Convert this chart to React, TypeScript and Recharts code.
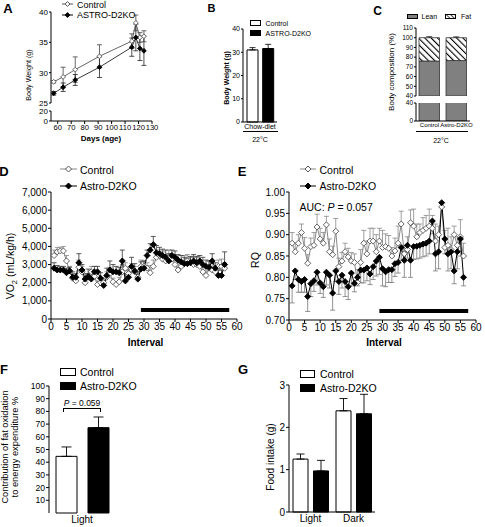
import React from 'react';
import { LineChart, Line, BarChart, Bar, XAxis, YAxis, ErrorBar, ReferenceLine } from 'recharts';

// A: body weight by age
const ageDays = [57, 64, 73, 91, 115, 118, 121, 124];
const bwControl = [28.5, 29.3, 30.5, 32.7, 35.2, 38.2, 35.8, 36.0];
const bwControlSem = [0.2, 1.6, 2.1, 1.9, 1.2, 1.3, 0.8, 0.9];
const bwKo = [26.6, 27.6, 28.8, 30.9, 34.2, 35.8, 34.0, 33.6];
const bwKoSem = [0.3, 0.7, 0.9, 1.7, 1.5, 2.2, 2.0, 2.4];
const dayTicks = [60, 70, 80, 90, 100, 110, 120, 130];
const bwTicksUpper = [25, 30, 35, 40];
const bwTicksLower = [0, 20];

// B: body weight, chow diet
const dietGroups = ['Chow-diet'];
const bwMeanControl = [31.0];
const bwSemControl = [1.0];
const bwMeanKo = [31.6];
const bwSemKo = [1.8];
const bTicks = [0, 10, 20, 30, 40];

// C: body composition
const compGroups = ['Control', 'Astro-D2KO'];
const leanPct = [76, 76.5];
const fatPct = [24, 23.5];
const fatSem = [1, 0.8];
const compTicksUpper = [40, 50, 60, 70, 80, 90, 100, 110];
const compTicksLower = [0, 40];

// D / E: indirect calorimetry
const intervals = Array.from({ length: 56 }, (_, i) => i + 1);
const intervalTicks = [0, 5, 10, 15, 20, 25, 30, 35, 40, 45, 50, 55, 60];
const darkPhase = [29, 57.5];
const vo2Control = [
  3500, 3700, 3750, 3750, 3200, 2650, 2250, 2100, 2850, 2600,
  2000, 2300, 2600, 2350, 1900, 2000, 2000, 2300, 2500, 2050,
  1900, 2050, 2600, 2800, 2500, 2700, 2600, 2300, 2900, 2900,
  2800, 2550, 2900, 3400, 3500, 3300, 3200, 3400, 3300, 3000,
  2700, 2900, 3100, 3200, 3100, 3000, 3000, 2900, 2600, 2400,
  2800, 2700, 2600, 2900, 2900, 2800,
];
const vo2ControlSem = [
  300, 250, 200, 250, 300, 250, 200, 150, 400, 300,
  250, 200, 300, 250, 200, 250, 200, 300, 350, 200,
  150, 250, 400, 300, 350, 350, 300, 300, 350, 300,
  300, 400, 350, 300, 300, 400, 350, 400, 300, 300,
  350, 300, 400, 350, 300, 400, 400, 300, 350, 250,
  400, 350, 300, 350, 400, 300,
];
const vo2Ko = [
  2800, 2700, 2700, 2700, 2550, 2650, 2300, 2300, 3100, 2700,
  2200, 2350, 2200, 2600, 2600, 2250, 1850, 2400, 2700, 2600,
  2600, 2550, 3200, 2100, 2300, 2900, 2650, 2200, 2750, 2800,
  3500, 3800, 4100, 3650, 3600, 3500, 3400, 3200, 3500, 3400,
  3250, 3150, 3050, 3050, 3100, 3200, 3100, 3200, 3000, 2900,
  2850, 3200, 2800, 2400, 2400, 3000,
];
const vo2KoSem = [
  300, 250, 200, 200, 250, 200, 300, 200, 500, 300,
  300, 400, 300, 300, 300, 300, 250, 400, 500, 400,
  300, 300, 600, 400, 400, 500, 400, 400, 400, 400,
  300, 350, 450, 400, 350, 350, 400, 400, 300, 350,
  300, 350, 350, 300, 350, 350, 350, 300, 400, 350,
  350, 400, 300, 300, 300, 700,
];
const vo2Ticks = [0, 1000, 2000, 3000, 4000, 5000, 6000, 7000];
const vo2BarLevel = 500;

const rqControl = [
  0.88, 0.86, 0.88, 0.905, 0.868, 0.833, 0.872, 0.875, 0.918, 0.89,
  0.88, 0.923, 0.86, 0.853, 0.908, 0.825, 0.838, 0.86, 0.848, 0.838,
  0.835, 0.788, 0.835, 0.88, 0.855, 0.885, 0.885, 0.86, 0.885, 0.87,
  0.872, 0.868, 0.85, 0.862, 0.88, 0.925, 0.855, 0.865, 0.928, 0.92,
  0.895, 0.905, 0.91, 0.915, 0.92, 0.915, 0.885, 0.9, 0.965, 0.87,
  0.875, 0.865, 0.9, 0.875, 0.895, 0.85,
];
const rqControlSem = [
  0.025, 0.02, 0.02, 0.02, 0.025, 0.02, 0.02, 0.03, 0.03, 0.025,
  0.025, 0.02, 0.03, 0.02, 0.03, 0.02, 0.02, 0.02, 0.02, 0.02,
  0.02, 0.03, 0.03, 0.03, 0.03, 0.03, 0.03, 0.04, 0.03, 0.04,
  0.03, 0.03, 0.02, 0.03, 0.04, 0.03, 0.02, 0.03, 0.03, 0.04,
  0.03, 0.02, 0.03, 0.03, 0.04, 0.03, 0.04, 0.02, 0.01, 0.04,
  0.04, 0.03, 0.02, 0.02, 0.04, 0.03,
];
const rqKo = [
  0.78, 0.815, 0.795, 0.79, 0.795, 0.755, 0.785, 0.792, 0.812, 0.787,
  0.778, 0.812, 0.805, 0.763, 0.815, 0.79, 0.805, 0.79, 0.778, 0.81,
  0.786, 0.8, 0.817, 0.817, 0.822, 0.808, 0.825, 0.838, 0.847, 0.82,
  0.813, 0.818, 0.818, 0.832, 0.835, 0.87, 0.84, 0.875, 0.84, 0.872,
  0.873, 0.875, 0.878, 0.88, 0.885, 0.932, 0.855, 0.86, 0.975, 0.89,
  0.855, 0.86, 0.815, 0.86, 0.89, 0.8,
];
const rqKoSem = [
  0.04, 0.02, 0.03, 0.025, 0.03, 0.035, 0.03, 0.025, 0.03, 0.025,
  0.025, 0.03, 0.03, 0.04, 0.025, 0.03, 0.03, 0.035, 0.03, 0.03,
  0.02, 0.02, 0.03, 0.03, 0.03, 0.025, 0.03, 0.035, 0.04, 0.04,
  0.035, 0.03, 0.03, 0.03, 0.025, 0.03, 0.04, 0.03, 0.04, 0.03,
  0.03, 0.03, 0.03, 0.03, 0.03, 0.03, 0.04, 0.04, 0.01, 0.035,
  0.04, 0.04, 0.03, 0.04, 0.04, 0.02,
];
const rqTicks = [0.7, 0.75, 0.8, 0.85, 0.9, 0.95, 1.0];
const rqBarLevel = 0.721;

// F: fat oxidation share
const fatOxGroups = ['Light'];
const fatOxControl = [44.6];
const fatOxControlSem = [7.4];
const fatOxKo = [67.2];
const fatOxKoSem = [8.4];
const fatOxTicks = [10, 20, 30, 40, 50, 60, 70, 80, 90, 100];

// G: food intake
const intakeGroups = ['Light', 'Dark'];
const intakeControl = [1.25, 2.39];
const intakeControlSem = [0.12, 0.29];
const intakeKo = [0.97, 2.32];
const intakeKoSem = [0.25, 0.46];
const intakeTicks = [0, 1, 2, 3];

const bwRows = ageDays.map((day, i) => ({
  day, ctrl: bwControl[i], ko: bwKo[i], ctrlErr: bwControlSem[i], koErr: bwKoSem[i],
}));
const bRows = dietGroups.map((g, i) => ({
  g, ctrl: bwMeanControl[i], ko: bwMeanKo[i], ctrlErr: [0, bwSemControl[i]], koErr: [0, bwSemKo[i]],
}));
const cRows = compGroups.map((g, i) => ({ g, lean: leanPct[i], fat: fatPct[i], cap: fatSem[i] }));
const vo2Rows = intervals.map((t, i) => ({
  t, ctrl: vo2Control[i], ko: vo2Ko[i],
  ctrlErr: [0, vo2ControlSem[i] ?? 0], koErr: [0, vo2KoSem[i] ?? 0],
}));
const rqRows = intervals.map((t, i) => ({
  t, ctrl: rqControl[i], ko: rqKo[i],
  ctrlErr: [0, rqControlSem[i] ?? 0], koErr: [rqKoSem[i] ?? 0, 0],
}));
const fRows = fatOxGroups.map((g, i) => ({
  g, ctrl: fatOxControl[i], ko: fatOxKo[i], ctrlErr: [0, fatOxControlSem[i]], koErr: [0, fatOxKoSem[i]],
}));
const gRows = intakeGroups.map((g, i) => ({
  g, ctrl: intakeControl[i], ko: intakeKo[i], ctrlErr: [0, intakeControlSem[i]], koErr: [0, intakeKoSem[i]],
}));

const FONT = '"Liberation Sans", Arial, Helvetica, sans-serif';
const axisLine = { stroke: '#000', strokeWidth: 1 };
const tk = (fontSize: number) => ({ fontSize, fill: '#000' });

const diamondDot = (fill: string, stroke: string, r: number) => (p: any) => {
  const { cx, cy, index } = p;
  if (cx == null || cy == null) return <g key={`d${index}`} />;
  return (
    <path
      key={`d${index}`}
      d={`M${cx},${cy - r}L${cx + r},${cy}L${cx},${cy + r}L${cx - r},${cy}Z`}
      fill={fill}
      stroke={stroke}
      strokeWidth={0.9}
    />
  );
};

const ErrCap = (p: any) => {
  const { x, y, width, height } = p;
  if (x == null || y == null) return <g />;
  const cx = x + width / 2;
  return (
    <g>
      <line x1={cx} x2={cx} y1={y} y2={y + height} stroke="#000" strokeWidth={0.8} />
      <line x1={cx - 3} x2={cx + 3} y1={y} y2={y} stroke="#000" strokeWidth={0.8} />
    </g>
  );
};

const Txt = ({ x, y, size, bold, rotate, left, children }: any) => (
  <div
    style={{
      position: 'absolute', left: x, top: y, fontSize: size, fontWeight: bold ? 700 : 400,
      lineHeight: 1, whiteSpace: 'nowrap',
      transform: `translate(${left ? '0' : '-50%'}, -50%)${rotate ? ' rotate(-90deg)' : ''}`,
    }}
  >
    {children}
  </div>
);

const BoxKey = ({ x, y, w, h, fill }: any) => (
  <div
    style={{
      position: 'absolute', left: x, top: y - h / 2, width: w, height: h, background: fill,
      border: '1px solid #000', boxSizing: 'border-box',
    }}
  />
);

const LineKey = ({ x, y, w, fill, stroke, line, r }: any) => (
  <svg style={{ position: 'absolute', left: x, top: y - 5 }} width={w} height={10}>
    <line x1={0} x2={w} y1={5} y2={5} stroke={line} strokeWidth={1} />
    <path d={`M${w / 2},${5 - r}L${w / 2 + r},5L${w / 2},${5 + r}L${w / 2 - r},5Z`} fill={fill} stroke={stroke} />
  </svg>
);

const Pos = ({ x, y, children }: any) => (
  <div style={{ position: 'absolute', left: x, top: y }}>{children}</div>
);

export default function App() {
  return (
    <div
      style={{
        position: 'absolute', left: 0, top: 0, width: 485, height: 527, background: '#fff',
        fontFamily: FONT, color: '#000', overflow: 'hidden',
      }}
    >
      <style>{'.recharts-surface{overflow:visible}'}</style>

      {/* A */}
      <Pos x={0} y={0}>
        <LineChart width={157} height={103} data={bwRows} margin={{ top: 12, right: 5, bottom: 0, left: 0 }}>
          <XAxis type="number" dataKey="day" domain={[55, 130]} hide />
          <YAxis domain={[25, 40]} ticks={bwTicksUpper} interval={0} width={51} tickSize={2} tickMargin={1}
            tick={tk(8)} axisLine={axisLine} tickLine={axisLine} allowDataOverflow />
          <Line dataKey="ctrl" stroke="#555" strokeWidth={0.9} dot={diamondDot('#fff', '#555', 2.4)}
            activeDot={false} isAnimationActive={false}>
            <ErrorBar dataKey="ctrlErr" direction="y" width={2.5} stroke="#444" strokeWidth={0.8} />
          </Line>
          <Line dataKey="ko" stroke="#222" strokeWidth={0.9} dot={diamondDot('#000', '#000', 2.4)}
            activeDot={false} isAnimationActive={false}>
            <ErrorBar dataKey="koErr" direction="y" width={2.5} stroke="#222" strokeWidth={0.8} />
          </Line>
        </LineChart>
      </Pos>
      <Pos x={0} y={105}>
        <LineChart width={157} height={32} data={bwRows} margin={{ top: 6, right: 5, bottom: 0, left: 0 }}>
          <XAxis type="number" dataKey="day" domain={[55, 130]} ticks={dayTicks} interval={0} height={16}
            tickSize={3} tickMargin={1} tick={tk(7.6)} axisLine={axisLine} tickLine={axisLine} />
          <YAxis domain={[0, 20]} ticks={bwTicksLower} interval={0} width={51} tickSize={2} tickMargin={1}
            tick={tk(8)} axisLine={axisLine} tickLine={axisLine} allowDataOverflow />
        </LineChart>
      </Pos>
      <Txt x={8} y={8} size={13} bold>A</Txt>
      <LineKey x={62} y={4} w={11} fill="#fff" stroke="#555" line="#555" r={2.4} />
      <Txt x={77} y={4.5} size={9} left>Control</Txt>
      <LineKey x={62} y={15} w={11} fill="#000" stroke="#000" line="#000" r={2.4} />
      <Txt x={77} y={15} size={9} left>ASTRO-D2KO</Txt>
      <Txt x={28.5} y={75} size={7.2} rotate>Body Weight (g)</Txt>
      <Txt x={101} y={139} size={8} bold>Days (age)</Txt>

      {/* B */}
      <Pos x={223} y={24}>
        <BarChart width={54} height={108} data={bRows} margin={{ top: 5, right: 0, bottom: 0, left: 0 }}
          barSize={11} barGap={4.7}>
          <XAxis dataKey="g" height={10} tickLine={false} tickSize={0} tickMargin={2} tick={tk(7)}
            axisLine={axisLine} interval={0} />
          <YAxis domain={[0, 40]} ticks={bTicks} interval={0} width={20} tickSize={2} tickMargin={1}
            tick={tk(7)} axisLine={axisLine} tickLine={axisLine} />
          <Bar dataKey="ctrl" fill="#fff" stroke="#000" strokeWidth={1} isAnimationActive={false}>
            <ErrorBar dataKey="ctrlErr" direction="y" width={3} stroke="#000" strokeWidth={0.8} />
          </Bar>
          <Bar dataKey="ko" fill="#000" stroke="#000" strokeWidth={1} isAnimationActive={false}>
            <ErrorBar dataKey="koErr" direction="y" width={3} stroke="#000" strokeWidth={0.8} />
          </Bar>
        </BarChart>
      </Pos>
      <Txt x={211.5} y={8} size={11} bold>B</Txt>
      <BoxKey x={250} y={23} w={11} h={5.5} fill="#fff" />
      <Txt x={265.5} y={23} size={7} left>Control</Txt>
      <BoxKey x={250} y={33} w={11} h={5.5} fill="#000" />
      <Txt x={265.5} y={33} size={7} left>ASTRO-D2KO</Txt>
      <Txt x={226} y={78} size={7} bold rotate>Body Weight (g)</Txt>
      <div style={{ position: 'absolute', left: 243, top: 131, width: 35, borderTop: '1px solid #000' }} />
      <Txt x={260} y={139} size={7}>22°C</Txt>

      {/* C */}
      <Pos x={386} y={0}>
        <BarChart width={84} height={96} data={cRows} margin={{ top: 28, right: 0, bottom: 0, left: 0 }}
          barSize={20.5}>
          <defs>
            <pattern id="fatHatch" width="4.5" height="4.5" patternUnits="userSpaceOnUse" patternTransform="rotate(-45)">
              <rect width="4.5" height="4.5" fill="#fff" />
              <line x1="0" y1="0" x2="0" y2="4.5" stroke="#000" strokeWidth="2.2" />
            </pattern>
          </defs>
          <XAxis dataKey="g" hide />
          <YAxis domain={[40, 110]} ticks={compTicksUpper} interval={0} width={30} tickSize={2} tickMargin={1}
            tick={tk(6.5)} axisLine={axisLine} tickLine={axisLine} allowDataOverflow />
          <Bar dataKey="lean" stackId="s" fill="#808080" stroke="#333" strokeWidth={0.8} isAnimationActive={false} />
          <Bar dataKey="fat" stackId="s" fill="url(#fatHatch)" stroke="#333" strokeWidth={0.8} isAnimationActive={false} />
          <Bar dataKey="cap" stackId="s" shape={ErrCap} isAnimationActive={false} />
        </BarChart>
      </Pos>
      <Pos x={386} y={97}>
        <BarChart width={84} height={36} data={cRows} margin={{ top: 6, right: 0, bottom: 0, left: 0 }}
          barSize={20.5}>
          <XAxis dataKey="g" height={12} tickLine={false} tickSize={0} tickMargin={2} tick={tk(6)}
            axisLine={axisLine} interval={0} />
          <YAxis domain={[0, 40]} ticks={compTicksLower} interval={0} width={30} tickSize={2} tickMargin={1}
            tick={tk(6.5)} axisLine={axisLine} tickLine={axisLine} allowDataOverflow />
          <Bar dataKey="lean" fill="#808080" stroke="#333" strokeWidth={0.8} isAnimationActive={false} />
        </BarChart>
      </Pos>
      <Txt x={377.5} y={11} size={12} bold>C</Txt>
      <BoxKey x={407} y={16} w={11} h={5} fill="#808080" />
      <Txt x={421.5} y={16} size={7} left>Lean</Txt>
      <svg style={{ position: 'absolute', left: 445, top: 13.5 }} width={11} height={5}>
        <defs>
          <pattern id="fatHatchKey" width="3" height="3" patternUnits="userSpaceOnUse" patternTransform="rotate(-45)">
            <rect width="3" height="3" fill="#fff" />
            <line x1="0" y1="0" x2="0" y2="3" stroke="#000" strokeWidth="1.4" />
          </pattern>
        </defs>
        <rect x={0.5} y={0.5} width={10} height={4} fill="url(#fatHatchKey)" stroke="#000" strokeWidth={1} />
      </svg>
      <Txt x={461} y={16} size={7} left>Fat</Txt>
      <Txt x={391.5} y={72} size={8} rotate>Body composition (%)</Txt>
      <div style={{ position: 'absolute', left: 416, top: 131, width: 52, borderTop: '1px solid #000' }} />
      <Txt x={441} y={140} size={7}>22°C</Txt>

      {/* D */}
      <Pos x={0} y={187}>
        <LineChart width={240} height={146} data={vo2Rows} margin={{ top: 5, right: 3, bottom: 0, left: 0 }}>
          <XAxis type="number" dataKey="t" domain={[0, 60]} ticks={intervalTicks} interval={0} height={14}
            tickSize={3} tickMargin={1} tick={tk(10)} axisLine={axisLine} tickLine={axisLine} />
          <YAxis domain={[0, 7000]} ticks={vo2Ticks} interval={0} width={51} tickSize={3} tickMargin={1}
            tick={tk(10)} axisLine={axisLine} tickLine={axisLine}
            tickFormatter={(v: number) => v.toLocaleString('en-US')} />
          <ReferenceLine segment={[{ x: darkPhase[0], y: vo2BarLevel }, { x: darkPhase[1], y: vo2BarLevel }]}
            stroke="#000" strokeWidth={4} />
          <Line dataKey="ctrl" stroke="#888" strokeWidth={1} dot={diamondDot('#fff', '#555', 3)}
            activeDot={false} isAnimationActive={false}>
            <ErrorBar dataKey="ctrlErr" direction="y" width={2.5} stroke="#888" strokeWidth={0.8} />
          </Line>
          <Line dataKey="ko" stroke="#000" strokeWidth={1} dot={diamondDot('#000', '#000', 3)}
            activeDot={false} isAnimationActive={false}>
            <ErrorBar dataKey="koErr" direction="y" width={2.5} stroke="#333" strokeWidth={0.8} />
          </Line>
        </LineChart>
      </Pos>
      <Txt x={4} y={171} size={13} bold>D</Txt>
      <LineKey x={60} y={169} w={17} fill="#fff" stroke="#555" line="#888" r={3} />
      <Txt x={80} y={169.5} size={10.5} left>Control</Txt>
      <LineKey x={60} y={185.5} w={17} fill="#000" stroke="#000" line="#000" r={3} />
      <Txt x={80} y={185.5} size={10.5} left>Astro-D2KO</Txt>
      <Txt x={12} y={266} size={10.5} rotate>VO<sub style={{ fontSize: 7.5 }}>2</sub> (mL/kg/h)</Txt>
      <Txt x={145.5} y={342.5} size={10} bold>Interval</Txt>

      {/* E */}
      <Pos x={259} y={187}>
        <LineChart width={220} height={147} data={rqRows} margin={{ top: 5, right: 3, bottom: 0, left: 0 }}>
          <XAxis type="number" dataKey="t" domain={[0, 60]} ticks={intervalTicks} interval={0} height={14}
            tickSize={3} tickMargin={1} tick={tk(10)} axisLine={axisLine} tickLine={axisLine} />
          <YAxis domain={[0.7, 1.0]} ticks={rqTicks} interval={0} width={30} tickSize={3} tickMargin={1}
            tick={tk(10)} axisLine={axisLine} tickLine={axisLine} allowDataOverflow
            tickFormatter={(v: number) => v.toFixed(2)} />
          <ReferenceLine segment={[{ x: darkPhase[0], y: rqBarLevel }, { x: darkPhase[1], y: rqBarLevel }]}
            stroke="#000" strokeWidth={4} />
          <Line dataKey="ctrl" stroke="#888" strokeWidth={1} dot={diamondDot('#fff', '#555', 3)}
            activeDot={false} isAnimationActive={false}>
            <ErrorBar dataKey="ctrlErr" direction="y" width={2.5} stroke="#888" strokeWidth={0.8} />
          </Line>
          <Line dataKey="ko" stroke="#000" strokeWidth={1} dot={diamondDot('#000', '#000', 3)}
            activeDot={false} isAnimationActive={false}>
            <ErrorBar dataKey="koErr" direction="y" width={2.5} stroke="#777" strokeWidth={0.8} />
          </Line>
        </LineChart>
      </Pos>
      <Txt x={242} y={171} size={13} bold>E</Txt>
      <LineKey x={300} y={169} w={16} fill="#fff" stroke="#555" line="#888" r={3} />
      <Txt x={319.5} y={169.5} size={10.5} left>Control</Txt>
      <LineKey x={300} y={185.5} w={16} fill="#000" stroke="#000" line="#000" r={3} />
      <Txt x={319.5} y={185.5} size={10.5} left>Astro-D2KO</Txt>
      <Txt x={254.5} y={260} size={10.5} rotate>RQ</Txt>
      <Txt x={299.5} y={206.7} size={10.5} left>AUC: <i>P</i> = 0.057</Txt>
      <Txt x={384} y={343} size={10} bold>Interval</Txt>

      {/* F */}
      <Pos x={21} y={380}>
        <BarChart width={94} height={147} data={fRows} margin={{ top: 6, right: 0, bottom: 0, left: 0 }}
          barSize={21} barGap={11}>
          <XAxis dataKey="g" height={14} axisLine={false} tickLine={false} tickSize={0} tickMargin={3}
            tick={tk(10)} interval={0} />
          <YAxis domain={[0, 100]} ticks={fatOxTicks} interval={0} width={28} tickSize={3} tickMargin={1}
            tick={tk(8.6)} axisLine={axisLine} tickLine={axisLine} />
          <Bar dataKey="ctrl" fill="#fff" stroke="#000" strokeWidth={1} isAnimationActive={false}>
            <ErrorBar dataKey="ctrlErr" direction="y" width={5} stroke="#000" strokeWidth={0.9} />
          </Bar>
          <Bar dataKey="ko" fill="#000" stroke="#000" strokeWidth={1} isAnimationActive={false}>
            <ErrorBar dataKey="koErr" direction="y" width={5} stroke="#000" strokeWidth={0.9} />
          </Bar>
        </BarChart>
      </Pos>
      <Txt x={4} y={369} size={13} bold>F</Txt>
      <BoxKey x={60} y={371.5} w={16} h={8} fill="#fff" />
      <Txt x={80} y={371.5} size={10.5} left>Control</Txt>
      <BoxKey x={60} y={385.5} w={16} h={8} fill="#000" />
      <Txt x={80} y={385.5} size={10.5} left>Astro-D2KO</Txt>
      <Txt x={82} y={403} size={8.5}><i>P</i> = 0.059</Txt>
      <div style={{ position: 'absolute', left: 63, top: 408, width: 38, height: 4, borderTop: '1px solid #000',
        borderLeft: '1px solid #000', borderRight: '1px solid #000', boxSizing: 'border-box' }} />
      <Txt x={5.5} y={447} size={9.3} rotate>Contribution of fat oxidation</Txt>
      <Txt x={15.5} y={447} size={9.3} rotate>to energy expenditure %</Txt>

      {/* G */}
      <Pos x={269} y={379}>
        <BarChart width={106} height={147} data={gRows} margin={{ top: 6, right: 0, bottom: 0, left: 0 }}
          barSize={15} barGap={5.5}>
          <XAxis dataKey="g" height={14} axisLine={axisLine} tickLine={false} tickSize={0} tickMargin={3}
            tick={tk(10)} interval={0} />
          <YAxis domain={[0, 3]} ticks={intakeTicks} interval={0} width={20} tickSize={3} tickMargin={1}
            tick={tk(10)} axisLine={axisLine} tickLine={axisLine} />
          <Bar dataKey="ctrl" fill="#fff" stroke="#000" strokeWidth={1} isAnimationActive={false}>
            <ErrorBar dataKey="ctrlErr" direction="y" width={4} stroke="#000" strokeWidth={0.9} />
          </Bar>
          <Bar dataKey="ko" fill="#000" stroke="#000" strokeWidth={1} isAnimationActive={false}>
            <ErrorBar dataKey="koErr" direction="y" width={4} stroke="#000" strokeWidth={0.9} />
          </Bar>
        </BarChart>
      </Pos>
      <Txt x={243} y={369} size={13} bold>G</Txt>
      <BoxKey x={299.5} y={373.5} w={15.5} h={8} fill="#fff" />
      <Txt x={320} y={373.5} size={10.5} left>Control</Txt>
      <BoxKey x={299.5} y={387.5} w={15.5} h={8} fill="#000" />
      <Txt x={320} y={387.5} size={10.5} left>Astro-D2KO</Txt>
      <Txt x={271} y={456.7} size={10} rotate>Food intake (g)</Txt>
    </div>
  );
}
